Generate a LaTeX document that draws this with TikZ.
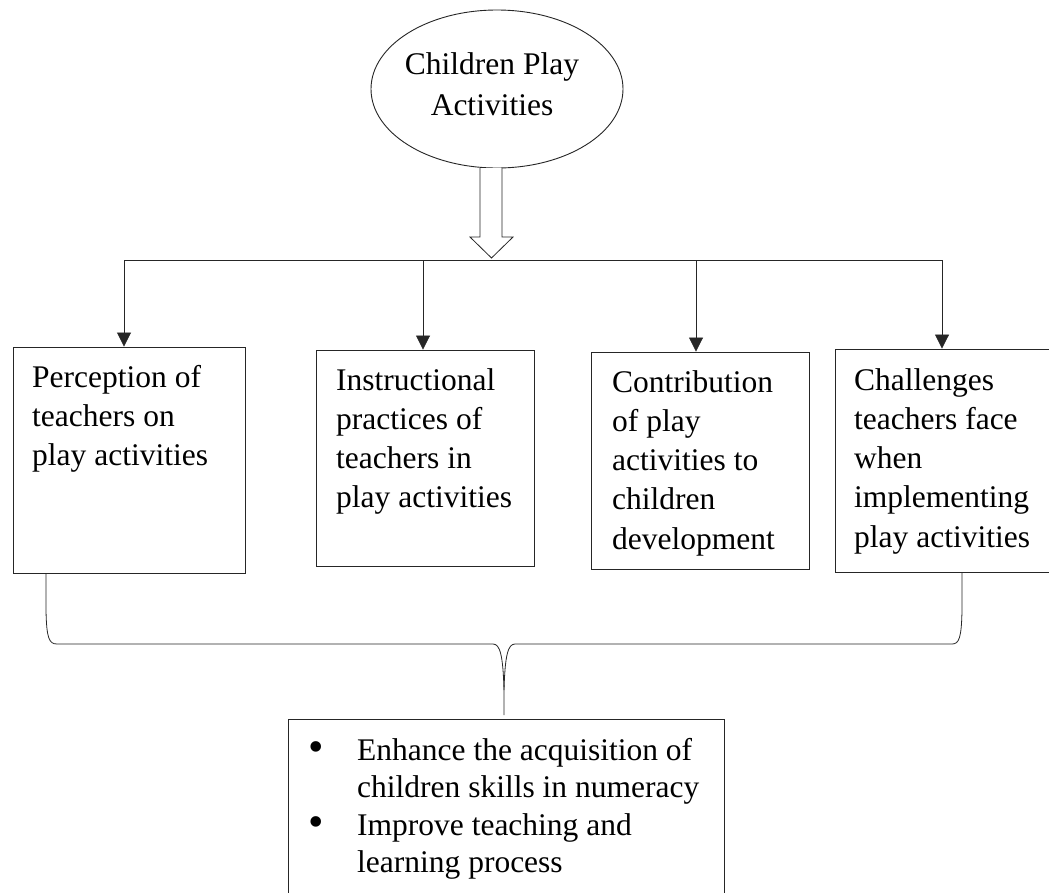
\documentclass[tikz,border=0pt]{standalone}
\usepackage{fontspec}
\setmainfont{Liberation Serif}
\usetikzlibrary{shapes.geometric,arrows.meta}
\tikzset{
  boxnode/.style={draw=black!85, line width=0.9pt, rectangle, inner sep=0pt, fill=white},
  txt/.style={anchor=north west, inner sep=0pt, align=left, font=\fontsize{31.5}{39.3}\selectfont},
  conn/.style={draw=black!85, line width=0.8pt},
  arr/.style={conn, -{Triangle[width=14pt,length=14pt]}, shorten >=0pt},
}
\newcommand{\mybul}{\makebox[48pt][l]{\hspace*{-1pt}\raisebox{-1.5pt}{\scalebox{1.4}{\textbullet}}}}
\begin{document}
\begin{tikzpicture}[x=1pt,y=-1pt]
\useasboundingbox (0,0) rectangle (1049,892);
\clip (0,0) rectangle (1049,892);
\fill[white] (0,0) rectangle (1049,892);

% top ellipse
\node[ellipse, draw=black!85, line width=0.9pt, minimum width=252pt, minimum height=158pt, inner sep=0pt] (top) at (497,89) {};
\node[anchor=north, inner sep=0pt, align=center, font=\fontsize{31.5}{41}\selectfont] (toptext) at (492,52) {Children Play\\Activities};

% block arrow
\coordinate (ba1) at (480,168);
\coordinate (ba2) at (502,168);
\draw[conn, fill=white] (ba1) -- (480,237) -- (470,237) -- (491.5,258) -- (513,237) -- (502,237) -- (ba2);

% boxes
\node[boxnode, minimum width=232pt, minimum height=226pt] (b1) at (129,460) {};
\node[boxnode, minimum width=218pt, minimum height=216pt] (b2) at (425,458) {};
\node[boxnode, minimum width=218pt, minimum height=217pt] (b3) at (700,460.5) {};
\node[boxnode, minimum width=220pt, minimum height=223pt] (b4) at (945,460.5) {};

\node[txt] (t1) at (32,365) {Perception of\\teachers on\\play activities};
\node[txt] (t2) at (336,368) {Instructional\\practices of\\teachers in\\play activities};
\node[txt] (t3) at (612,370) {Contribution\\of play\\activities to\\children\\development};
\node[txt] (t4) at (854,368) {Challenges\\teachers face\\when\\implementing\\play activities};

% distribution line
\coordinate (h1) at (124,260);
\coordinate (h2) at (423,260);
\coordinate (h3) at (696,260);
\coordinate (h4) at (942,260);
\draw[conn] (h1) -- (h4);
\draw[arr] (h1) -- (h1 |- b1.north);
\draw[arr] (h2) -- (h2 |- b2.north);
\draw[arr] (h3) -- (h3 |- b3.north);
\draw[arr] (h4) -- (h4 |- b4.north);

% bottom box
\node[boxnode, minimum width=436pt, minimum height=181pt] (bot) at (506,809.5) {};
\node[txt, font=\fontsize{31.5}{37.5}\selectfont] (bt) at (309,738) {\mybul Enhance the acquisition of\\\hspace*{48pt}children skills in numeracy\\\mybul Improve teaching and\\\hspace*{48pt}learning process};

% brace
\coordinate (brl) at (46,573);
\coordinate (brr) at (962,572);
\coordinate (brtip) at (504,715);
\draw[conn] (brl) -- (46,610) .. controls (46.5,638) and (49,644) .. (57,644) -- (493,644) .. controls (500,644) and (503,655) .. (504,690) -- (brtip);
\draw[conn] (504,690) .. controls (505,655) and (508,644) .. (515,644) -- (952,644) .. controls (959,644) and (961.5,638) .. (962,610) -- (brr);
\end{tikzpicture}
\end{document}
